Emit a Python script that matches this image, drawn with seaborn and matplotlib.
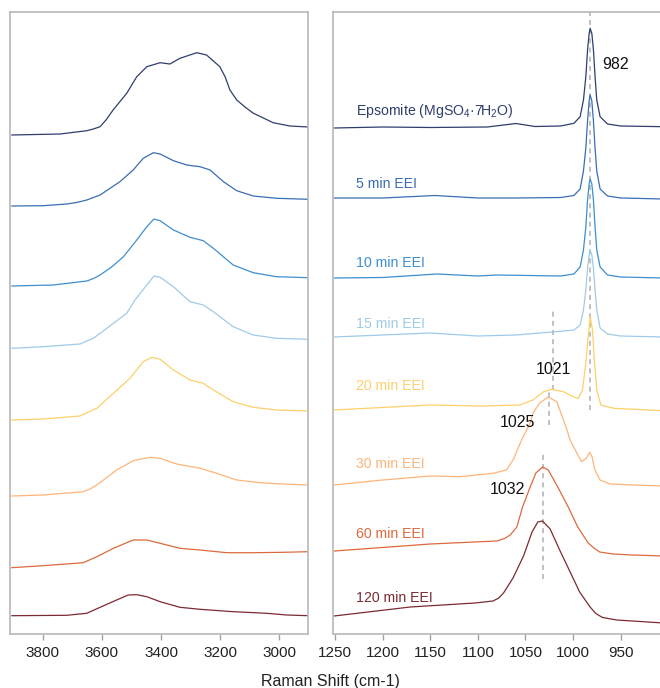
import numpy as np
import pandas as pd
import matplotlib
matplotlib.use("Agg")
import matplotlib.pyplot as plt
import seaborn as sns

# ---------------- data ----------------
samples = ["Epsomite", "5 min EEI", "10 min EEI", "15 min EEI",
           "20 min EEI", "30 min EEI", "60 min EEI", "120 min EEI"]
labels = ["Epsomite (MgSO$_{4}$·7H$_{2}$O)", "5 min EEI", "10 min EEI", "15 min EEI",
          "20 min EEI", "30 min EEI", "60 min EEI", "120 min EEI"]
colors = ["#2e3f6e", "#3a6db3", "#3d8fd0", "#9fcbe8",
          "#fdd06a", "#fdb57a", "#dd6a3e", "#7c2b31"]
label_y = [518.5, 446, 367, 306, 243.5, 166, 96.5, 32.5]

# O-H stretching region (left panel), stacked intensity (a.u.)
oh_wn_eps = [3905, 3741, 3651, 3629, 3606, 3586, 3562, 3516, 3482, 3448, 3403, 3370, 3336, 3279, 3246, 3201, 3183, 3167, 3144, 3116, 3089, 3021, 2964, 2902]
oh_i_eps = [499, 500, 503.3, 505, 507.3, 514, 524, 540.7, 557.3, 567.3, 571.3, 570, 575.7, 581.3, 579, 567.3, 557, 544, 534, 527, 521, 511.3, 508, 507]
oh_wn_5 = [3905, 3798, 3719, 3685, 3651, 3606, 3539, 3494, 3460, 3426, 3403, 3358, 3313, 3268, 3234, 3189, 3144, 3088, 3009, 2902]
oh_i_5 = [428, 428.3, 430, 431.5, 434, 439, 452.3, 464, 475.7, 481.3, 480, 473.3, 469, 467.3, 464, 452.3, 443.3, 438, 435.7, 434.7]
oh_wn_10 = [3905, 3764, 3651, 3628, 3606, 3567, 3527, 3482, 3448, 3424, 3403, 3358, 3302, 3257, 3223, 3156, 3088, 3009, 2902]
oh_i_10 = [348, 349, 353, 355.5, 359, 367, 377.3, 394, 407.3, 415, 413.3, 404, 396.7, 393.3, 385.7, 369, 361.3, 357.3, 356.3]
oh_wn_15 = [3905, 3798, 3674, 3629, 3600, 3561, 3516, 3488, 3424, 3403, 3358, 3302, 3257, 3223, 3156, 3088, 3009, 2902]
oh_i_15 = [285.7, 287.3, 290, 295.7, 302, 310.7, 320.7, 334, 358, 356.7, 347.3, 332.3, 329, 322.3, 307.3, 299, 295.7, 294.7]
oh_wn_20 = [3905, 3798, 3674, 3617, 3561, 3505, 3460, 3431, 3403, 3358, 3302, 3257, 3223, 3156, 3088, 3009, 2902]
oh_i_20 = [214, 215, 218, 225.7, 240.7, 255.7, 272.3, 276.7, 274.7, 264, 254, 250.7, 244, 232.3, 226.7, 224, 223]
oh_wn_30 = [3905, 3798, 3663, 3640, 3617, 3550, 3494, 3437, 3403, 3347, 3268, 3212, 3144, 3065, 2987, 2902]
oh_i_30 = [138, 139, 142.3, 145, 149, 164, 173.3, 176.7, 175.7, 170, 165.7, 160.7, 154, 151.3, 150, 149]
oh_wn_60 = [3905, 3798, 3663, 3617, 3561, 3494, 3448, 3403, 3336, 3268, 3178, 3088, 2987, 2902]
oh_i_60 = [66.3, 68.3, 71.3, 77.3, 85.7, 94, 94, 90.7, 85.7, 84, 81.3, 81.3, 81.7, 82.3]
oh_wn_120 = [3905, 3719, 3651, 3606, 3550, 3511, 3482, 3448, 3403, 3336, 3268, 3156, 3043, 2975, 2902]
oh_i_120 = [18.3, 18.7, 20.7, 26.7, 34, 39, 39.3, 37.3, 32.3, 26.7, 24.7, 22.3, 20.7, 19, 18.3]

# sulfate stretching region (right panel), stacked intensity (a.u.)
so_wn_eps = [1251, 1200, 1150, 1090, 1060, 1040, 1013, 999, 992.5, 989, 986.5, 984.7, 983, 982, 980.2, 978.5, 976.8, 975, 971.5, 963.7, 950, 905]
so_i_eps = [506, 507, 506.5, 507, 510.5, 507.5, 508, 510.7, 517.3, 534, 557.3, 584, 600.7, 605.7, 600.7, 584, 557.3, 534, 517.3, 510, 508, 507.3]
so_wn_5 = [1251, 1200, 1145, 1100, 1060, 1013, 999, 992.5, 989, 986.5, 984.7, 983, 982, 980.2, 978.5, 976.8, 975, 971.5, 963.7, 950, 905]
so_i_5 = [436, 436, 438.5, 436, 436, 436.5, 438.5, 445, 463, 486, 513, 533, 539, 533, 513, 486, 463, 445, 438, 436, 435]
so_wn_10 = [1251, 1200, 1143, 1100, 1080, 1013, 999, 992.5, 989, 986.5, 984.7, 983, 982, 980.2, 978.5, 976.8, 975, 971.5, 963.7, 950, 905]
so_i_10 = [356, 356.5, 360, 358, 359, 358, 360, 367, 384, 407, 434, 450, 455, 450, 434, 407, 384, 367, 359, 357, 356]
so_wn_15 = [1251, 1150, 1100, 1060, 1022, 999, 992.5, 989, 986.5, 984.7, 983, 982, 980.2, 978.5, 976.8, 975, 971.5, 963.7, 950, 905]
so_i_15 = [297, 301, 298, 299, 302, 304, 309, 324, 344, 366, 379, 384, 379, 366, 344, 324, 306, 300, 298, 297]
so_wn_20 = [1251, 1150, 1097, 1056, 1042, 1031, 1022, 1010, 999.7, 994.4, 990, 986.5, 984, 982, 979.5, 977.8, 975, 970.7, 957, 905]
so_i_20 = [224, 229, 228, 229, 234, 242.3, 244.7, 242.3, 237.3, 235.7, 244, 271, 297.3, 317.3, 304, 277.3, 244, 229, 225.7, 223.3]
so_wn_30 = [1251, 1200, 1150, 1119, 1084, 1070, 1063, 1054, 1045, 1042, 1035, 1026, 1017, 1007, 1003, 996, 991, 986, 982.5, 980, 977, 971.6, 961, 937, 905]
so_i_30 = [149, 154, 158, 157.3, 160.7, 164, 174, 194, 211, 221, 231, 237, 232.3, 206, 194, 181, 172.3, 175.7, 181.7, 177.3, 164, 154, 150, 149, 148]
so_wn_60 = [1251, 1150, 1080, 1072, 1066, 1059, 1053, 1045, 1039, 1032, 1026, 1016, 1005, 995, 984, 978, 972, 958, 937, 905]
so_i_60 = [83, 90, 93, 95.5, 99, 107, 127, 147, 161, 167, 164, 147, 127, 107, 91, 86, 82, 80, 79, 78]
so_wn_120 = [1251, 1171, 1103, 1084, 1078, 1073, 1063, 1052, 1043, 1037, 1032, 1024, 1014, 1003, 993, 982, 976, 969, 954, 905]
so_i_120 = [18, 27, 31, 33, 36, 41, 56, 78, 102, 112, 113, 105, 84, 62, 42, 27, 20.5, 16.5, 14, 11]

# peak markers: position, line span (a.u.), label position and text
peak_pos = [982, 1021, 1025, 1032]
peak_lo = [224, 244, 209, 55]
peak_hi = [622, 326, 246, 181]
peak_txt_x = [955, 1021, 1058, 1069]
peak_txt_y = [565, 260, 207, 140]
peak_txt = ["982", "1021", "1025", "1032"]

left_ticks = [3800, 3600, 3400, 3200, 3000]
right_ticks = [1250, 1200, 1150, 1100, 1050, 1000, 950]

# ---------------- build tables ----------------
oh_sets = [(oh_wn_eps, oh_i_eps), (oh_wn_5, oh_i_5), (oh_wn_10, oh_i_10), (oh_wn_15, oh_i_15),
           (oh_wn_20, oh_i_20), (oh_wn_30, oh_i_30), (oh_wn_60, oh_i_60), (oh_wn_120, oh_i_120)]
so_sets = [(so_wn_eps, so_i_eps), (so_wn_5, so_i_5), (so_wn_10, so_i_10), (so_wn_15, so_i_15),
           (so_wn_20, so_i_20), (so_wn_30, so_i_30), (so_wn_60, so_i_60), (so_wn_120, so_i_120)]


def to_df(sets):
    rows = []
    for s, (wn, inten) in zip(samples, sets):
        rows.append(pd.DataFrame({"wn": wn, "I": inten, "sample": s}))
    return pd.concat(rows, ignore_index=True)


df_oh = to_df(oh_sets)
df_so = to_df(so_sets)
palette = dict(zip(samples, colors))

# ---------------- plotting ----------------
sns.set_style("white")
plt.rcParams["font.family"] = ["Liberation Sans", "DejaVu Sans"]
plt.rcParams["mathtext.default"] = "regular"

fig = plt.figure(figsize=(6.6, 6.88), dpi=100)
W, H = 660.0, 688.0
axL = fig.add_axes([10 / W, 1 - 634 / H, 298 / W, 622 / H])
axR = fig.add_axes([333 / W, 1 - 634 / H, 330 / W, 622 / H])

line_kw = dict(estimator=None, sort=False, legend=False, linewidth=0.9)
sns.lineplot(data=df_oh, x="wn", y="I", hue="sample", palette=palette, ax=axL, **line_kw)
sns.lineplot(data=df_so, x="wn", y="I", hue="sample", palette=palette, ax=axR, **line_kw)
for ax in (axL, axR):
    for ln in ax.get_lines():
        ln.set_solid_joinstyle("round")

for px, lo, hi in zip(peak_pos, peak_lo, peak_hi):
    axR.plot([px, px], [lo, hi], color="#b5b5b5", lw=1.2, ls=(0, (3, 2.5)), zorder=1)
for tx, ty, t in zip(peak_txt_x, peak_txt_y, peak_txt):
    axR.text(tx, ty, t, ha="center", va="baseline", fontsize=11.5, color="#111111")

for lab, ly, c in zip(labels, label_y, colors):
    axR.text(1228, ly, lab, ha="left", va="baseline", fontsize=10.2, color=c)

axL.set_xlim(3910.6, 2903)
axR.set_xlim(1252.2, 905.4)
for ax, ticks in ((axL, left_ticks), (axR, right_ticks)):
    ax.set_ylim(0, 622)
    ax.set_xticks(ticks)
    ax.set_yticks([])
    ax.set_xlabel("")
    ax.set_ylabel("")
    ax.tick_params(axis="x", direction="out", length=4.5, width=1, color="#a0a0a0",
                   labelsize=11, labelcolor="#222222", pad=4, bottom=True)
    for sp in ax.spines.values():
        sp.set_color("#b8b8b8")
        sp.set_linewidth(1.2)

fig.text(330 / W, 1 - 686 / H, "Raman Shift (cm-1)", ha="center", va="baseline",
         fontsize=11.5, color="#222222")

fig.savefig("out.png", dpi=100)
